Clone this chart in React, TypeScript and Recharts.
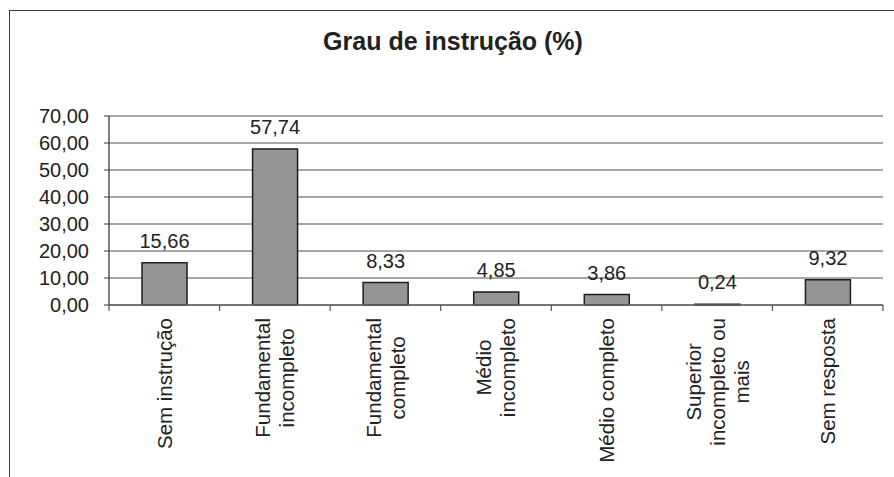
import React from "react";
import { BarChart, Bar, XAxis, YAxis, CartesianGrid, LabelList } from "recharts";

const categories = [
  "Sem instrução",
  "Fundamental\nincompleto",
  "Fundamental\ncompleto",
  "Médio\nincompleto",
  "Médio completo",
  "Superior\nincompleto ou\nmais",
  "Sem resposta",
];
const values = [15.66, 57.74, 8.33, 4.85, 3.86, 0.24, 9.32];
const yTicks = [0, 10, 20, 30, 40, 50, 60, 70];

const data = categories.map((name, i) => ({ name, value: values[i] }));

const W = 894;
const H = 477;
const margin = { top: 116, right: 11, bottom: 0, left: 0 };
const Y_AXIS_W = 109;
const X_AXIS_H = 172;
const band = (W - margin.right - Y_AXIS_W) / categories.length;

const FONT = "'Liberation Sans', Arial, sans-serif";
const LABEL_SIZE = 20.5;
const fmt = (v: number) => Number(v).toFixed(2).replace(".", ",");

let ctx: CanvasRenderingContext2D | null = null;
const measure = (s: string, size: number) => {
  if (!ctx) ctx = document.createElement("canvas").getContext("2d");
  if (!ctx) return s.length * size * 0.5;
  ctx.font = `${size}px ${FONT}`;
  return ctx.measureText(s).width;
};

// Excel-style rotated labels: block top-aligned under the axis, lines centred in it
const CategoryTick = (props: any) => {
  const { x, y, payload, index } = props;
  const lines = String(payload.value).split("\n");
  const maxW = Math.max(...lines.map((l) => measure(l, LABEL_SIZE)));
  const cy = y + 13 + maxW / 2;
  const left = x - band / 2;
  const right = x + band / 2;
  return (
    <g>
      <line x1={left} y1={y} x2={left} y2={y + 6} stroke="#555" strokeWidth={1.2} />
      {index === categories.length - 1 && (
        <line x1={right} y1={y} x2={right} y2={y + 6} stroke="#555" strokeWidth={1.2} />
      )}
      {lines.map((l, i) => {
        const lx = x + (i - (lines.length - 1) / 2) * 24;
        return (
          <text
            key={i}
            x={lx}
            y={cy}
            transform={`rotate(-90 ${lx} ${cy})`}
            textAnchor="middle"
            dominantBaseline="central"
            fontSize={LABEL_SIZE}
            fontFamily={FONT}
            fill="#222"
          >
            {l}
          </text>
        );
      })}
    </g>
  );
};

export default function App() {
  return (
    <div
      style={{
        position: "absolute",
        left: 0,
        top: 0,
        width: W,
        height: H,
        overflow: "hidden",
        background: "#fff",
        fontFamily: FONT,
      }}
    >
      <div
        style={{
          position: "absolute",
          left: 9,
          top: 10,
          width: W,
          height: H,
          borderTop: "1.5px solid #3a3a3a",
          borderLeft: "1.5px solid #3a3a3a",
        }}
      />
      <div
        style={{
          position: "absolute",
          left: 153,
          top: 29,
          width: 600,
          textAlign: "center",
          fontSize: 25,
          lineHeight: "25px",
          fontWeight: "bold",
          color: "#222",
        }}
      >
        Grau de instrução (%)
      </div>
      <BarChart width={W} height={H} data={data} margin={margin}>
        <CartesianGrid horizontal vertical={false} stroke="#8a8a8a" strokeWidth={1.5} />
        <XAxis
          dataKey="name"
          height={X_AXIS_H}
          interval={0}
          tickSize={0}
          tickMargin={0}
          tickLine={false}
          axisLine={{ stroke: "#666", strokeWidth: 1.5 }}
          tick={<CategoryTick />}
        />
        <YAxis
          width={Y_AXIS_W}
          domain={[0, 70]}
          ticks={yTicks}
          interval={0}
          tickFormatter={fmt}
          tickSize={5}
          tickMargin={15}
          tickLine={{ stroke: "#555", strokeWidth: 1.2 }}
          axisLine={{ stroke: "#555", strokeWidth: 1.5 }}
          tick={{ fontSize: 20, fill: "#222", fontFamily: FONT }}
        />
        <YAxis
          yAxisId="right"
          orientation="right"
          width={0}
          domain={[0, 70]}
          tick={false}
          tickLine={false}
          axisLine={{ stroke: "#8c8c8c", strokeWidth: 2 }}
        />
        <Bar
          dataKey="value"
          barSize={45}
          fill="#959595"
          stroke="#1e1e1e"
          strokeWidth={1.5}
          isAnimationActive={false}
        >
          <LabelList
            dataKey="value"
            position="top"
            offset={15}
            formatter={(v: any) => fmt(v)}
            fill="#222"
            fontSize={20}
            fontFamily={FONT}
          />
        </Bar>
      </BarChart>
    </div>
  );
}
